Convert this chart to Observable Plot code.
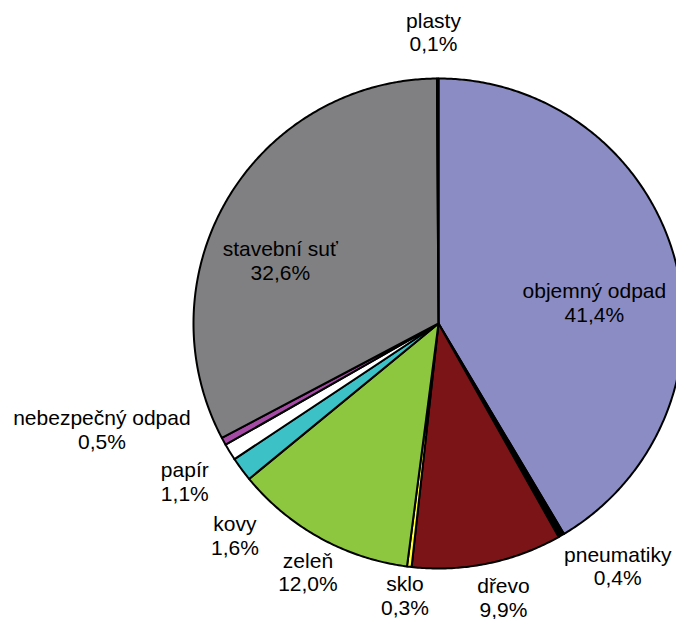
<!DOCTYPE html>
<html>
<head>
<meta charset="utf-8">
<script src="https://cdn.jsdelivr.net/npm/d3@7"></script>
<script src="https://cdn.jsdelivr.net/npm/@observablehq/plot@0.6"></script>
<style>
  html, body { margin: 0; padding: 0; background: #fff; }
  #chart { width: 676px; height: 619px; overflow: hidden; }
  #chart svg { display: block; }
</style>
</head>
<body>
<div id="chart"></div>
<script>
// ---- data (clockwise from 12 o'clock) ----
const categories = ["objemný odpad", "pneumatiky", "dřevo", "sklo", "zeleň", "kovy", "papír", "nebezpečný odpad", "stavební suť", "plasty"];
const shares = [41.4, 0.4, 9.9, 0.3, 12.0, 1.6, 1.1, 0.5, 32.6, 0.1];
const colors = ["#8B8CC4", "#000000", "#7A1416", "#FFFF33", "#8DC63F", "#3BC1C6", "#FFFFFF", "#A54BA5", "#808083", "#6B2050"];

// ---- label layout (angle offset in degrees from slice middle, radius as fraction of pie radius) ----
const labelAngleOffset = [7.7, -6.4, -1.8, 0.2, -1.3, -9.7, -0.3, 11.3, -9.2, -0.8];
const labelRadius = [0.642, 1.23, 1.15, 1.118, 1.146, 1.2, 1.22, 1.44, 0.695, 1.19];

const total = d3.sum(shares);
const rad = Math.PI / 180;

// build slice polygons (in unit-radius data space)
const slicePts = [];
const labels = [];
let start = 0;
categories.forEach((name, i) => {
  const sweep = shares[i] / total * 360;
  const a0 = start, a1 = start + sweep;
  slicePts.push({name, x: 0, y: 0});
  const steps = Math.max(2, Math.ceil(sweep / 0.5));
  for (let k = 0; k <= steps; k++) {
    const a = (a0 + (a1 - a0) * k / steps) * rad;
    slicePts.push({name, x: Math.sin(a), y: Math.cos(a)});
  }
  slicePts.push({name, x: 0, y: 0});
  const mid = ((a0 + a1) / 2 + labelAngleOffset[i]) * rad;
  labels.push({
    name,
    x: labelRadius[i] * Math.sin(mid),
    y: labelRadius[i] * Math.cos(mid),
    text: name + "\n" + shares[i].toFixed(1).replace(".", ",") + "%"
  });
  start = a1;
});

const R = 245, cx = 438, cy = 323, W = 676, H = 619;

const chart = Plot.plot({
  width: W,
  height: H,
  margin: 0,
  x: {domain: [-cx / R, (W - cx) / R], axis: null},
  y: {domain: [-(H - cy) / R, cy / R], axis: null},
  color: {domain: categories, range: colors},
  marks: [
    Plot.line(slicePts, {
      x: "x", y: "y", z: "name",
      fill: "name",
      stroke: "#000",
      strokeWidth: 2,
      strokeLinejoin: "round",
      curve: "linear",
      clip: true
    }),
    Plot.text(labels, {
      x: "x", y: "y", text: "text",
      fontSize: 21,
      lineHeight: 1.12,
      fill: "#000",
      fontFamily: "Arial, 'Liberation Sans', sans-serif"
    })
  ],
  style: {fontFamily: "Arial, 'Liberation Sans', sans-serif", background: "#fff"}
});
document.getElementById("chart").appendChild(chart);
</script>
</body>
</html>
